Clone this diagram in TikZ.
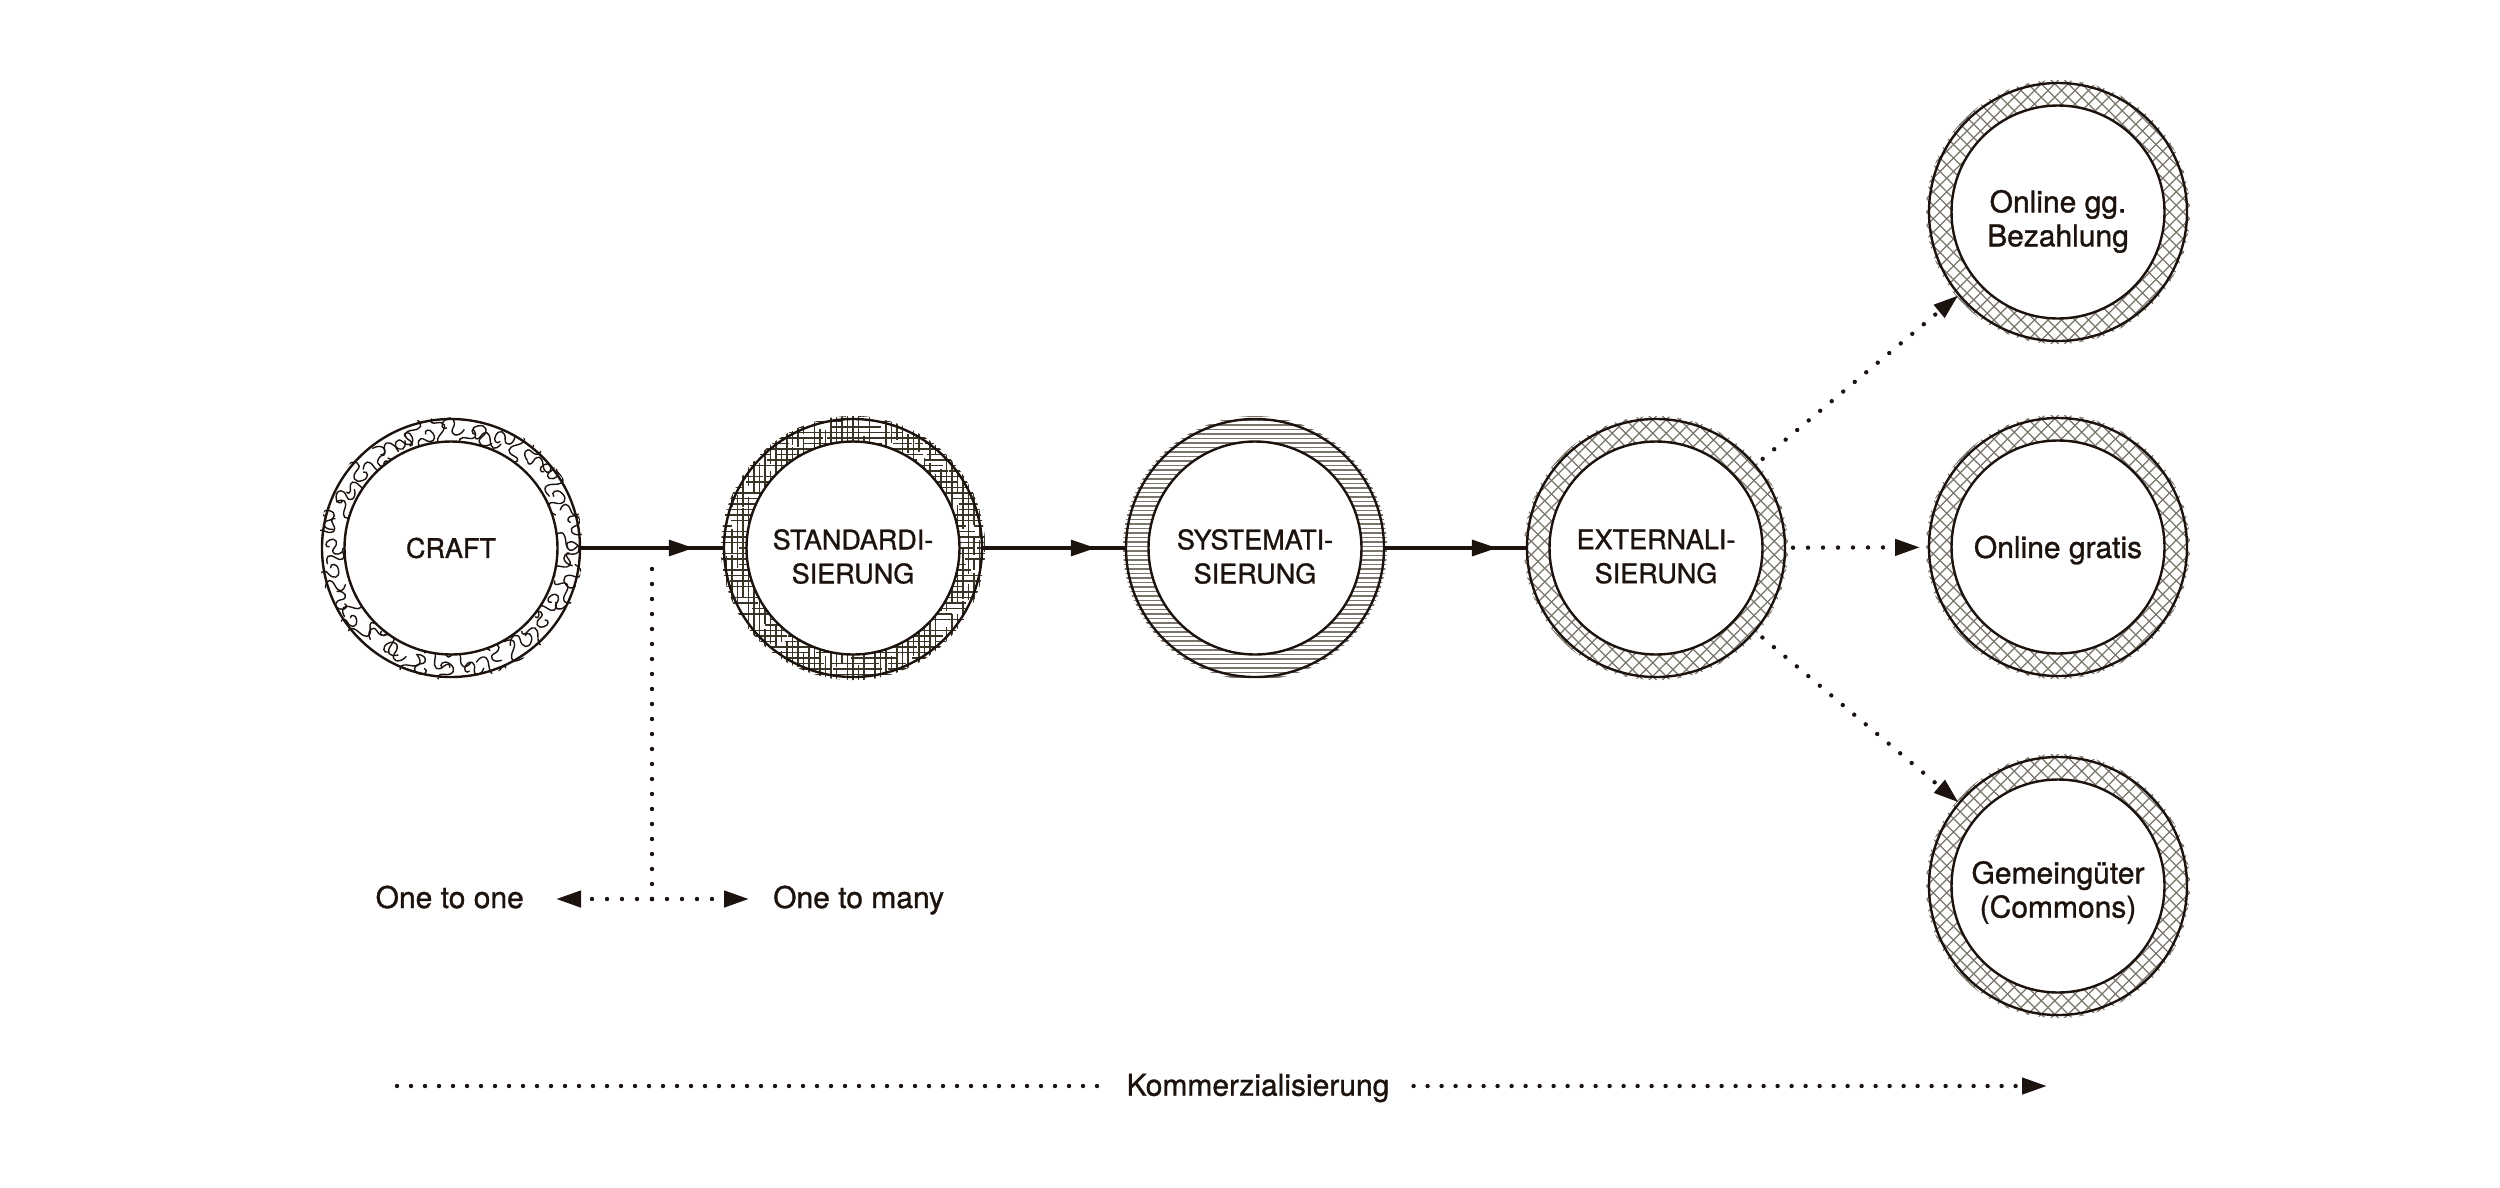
\documentclass[tikz,border=0pt]{standalone}
\usepackage{fontspec}
\setmainfont{TeX Gyre Heros}[FakeBold=1.1]
\usetikzlibrary{arrows.meta,decorations.markings,calc}
\definecolor{ink}{HTML}{1C130E}
\definecolor{hatchgray}{HTML}{7A756B}
\definecolor{hatchdark}{HTML}{3A3426}
\newcommand\drawxhatch{%
  \foreach \k in {-280,-266.5,...,280}{%
    \draw[xh] (\k-140,-140) -- (\k+140,140);
    \draw[xh] (\k-140,140) -- (\k+140,-140);
  }%
}
\begin{document}
\begin{tikzpicture}[x=1pt,y=-1pt,
  ring/.style={circle,draw=ink,line width=2.4pt,minimum size=258pt,inner sep=0pt,outer sep=0pt},
  inring/.style={circle,draw=ink,line width=2.4pt,minimum size=213pt,inner sep=0pt,outer sep=0pt},
  capl/.style={font=\fontsize{27}{34}\selectfont,text=ink,align=center,inner sep=0pt},
  lowl/.style={font=\fontsize{30}{34}\selectfont,text=ink,align=center,inner sep=0pt},
  flow/.style={draw=ink,line width=3.2pt,postaction={decorate},
    decoration={markings,mark=at position 0.79 with {\arrow{Triangle[length=25pt,width=16pt]}}}},
  dots/.style={draw=ink,line width=4.4pt,line cap=round,dash pattern=on 0pt off 15pt},
  dotarrow/.style={dots,-{Triangle[length=25pt,width=16pt]}},
  squig/.style={draw=ink,line width=1.4pt,line cap=round},
  seg/.style={draw=hatchdark,line width=1.3pt},
  hl/.style={draw=hatchgray,line width=1.2pt},
  xh/.style={draw=hatchgray,line width=1.2pt},
]
\useasboundingbox (0,0) rectangle (2500,1187);

% ---- CRAFT ring: squiggles
\begin{scope}[shift={(451,548)},even odd rule]
  \clip (0,0) circle[radius=132pt] (0,0) circle[radius=106pt];
  \pgfmathsetseed{7}
  \foreach \i in {1,...,56}{
    \pgfmathsetmacro\ang{\i*6.4286+rnd*3}
    \pgfmathsetmacro\rr{110+rnd*17}
    \pgfmathsetmacro\rot{rnd*360}
    \pgfmathsetmacro\sc{0.9+rnd*0.3}
    \ifodd\i
      \draw[squig,shift={(\ang:\rr)},rotate=\rot,scale=\sc] (-12,0) .. controls (-9,-8) and (-4,-8) .. (-1,0) .. controls (2,8) and (7,8) .. (9,1) .. controls (10,-3) and (13,-4) .. (14,-1);
    \else
      \draw[squig,shift={(\ang:\rr)},rotate=\rot,scale=\sc] (-9,5) .. controls (-11,-4) and (-3,-8) .. (-1,-1) .. controls (1,6) and (8,7) .. (9,-1) .. controls (10,-7) and (4,-9) .. (3,-5);
    \fi
  }
\end{scope}

% ---- STANDARDISIERUNG ring: grid segments
\begin{scope}[shift={(853,548)},even odd rule]
  \clip (0,0) circle[radius=132pt] (0,0) circle[radius=106pt];
  \pgfmathsetseed{11}
  \foreach \i in {1,...,760}{
    \pgfmathsetmacro\ang{rnd*360}
    \pgfmathsetmacro\rr{102+rnd*32}
    \pgfmathsetmacro\px{round(\rr*cos(\ang)/5.5)*5.5}
    \pgfmathsetmacro\py{round(\rr*sin(\ang)/5.5)*5.5}
    \pgfmathsetmacro\len{8+rnd*24}
    \ifodd\i
      \draw[seg] (\px-\len/2,\py) -- ++(\len,0);
    \else
      \draw[seg] (\px,\py-\len/2) -- ++(0,\len);
    \fi
  }
\end{scope}

% ---- SYSTEMATISIERUNG ring: horizontal lines
\begin{scope}[shift={(1255,548)},even odd rule]
  \clip (0,0) circle[radius=132pt] (0,0) circle[radius=106pt];
  \foreach \k in {-132,-127.5,...,133}{
    \draw[hl] (-140,\k) -- (140,\k);
  }
\end{scope}

% ---- cross-hatched rings
\begin{scope}[shift={(1656,548)},even odd rule]
  \clip (0,0) circle[radius=132pt] (0,0) circle[radius=106pt];
  \drawxhatch
\end{scope}
\begin{scope}[shift={(2058,212)},even odd rule]
  \clip (0,0) circle[radius=132pt] (0,0) circle[radius=106pt];
  \drawxhatch
\end{scope}
\begin{scope}[shift={(2058,547)},even odd rule]
  \clip (0,0) circle[radius=132pt] (0,0) circle[radius=106pt];
  \drawxhatch
\end{scope}
\begin{scope}[shift={(2058,886)},even odd rule]
  \clip (0,0) circle[radius=132pt] (0,0) circle[radius=106pt];
  \drawxhatch
\end{scope}

% ---- ring outlines
\node[ring] (craft) at (451,548) {};
\node[inring] (crafti) at (451,548) {};
\node[ring] (std) at (853,548) {};
\node[inring] (stdi) at (853,548) {};
\node[ring] (sys) at (1255,548) {};
\node[inring] (sysi) at (1255,548) {};
\node[ring] (ext) at (1656,548) {};
\node[inring] (exti) at (1656,548) {};
\node[ring] (onl) at (2058,212) {};
\node[inring] (onli) at (2058,212) {};
\node[ring] (grat) at (2058,547) {};
\node[inring] (grati) at (2058,547) {};
\node[ring] (comm) at (2058,886) {};
\node[inring] (commi) at (2058,886) {};

% ---- labels
\node[capl] (craftt) at (451,548) {CRAFT};
\node[capl] (stdt) at (853,556.5) {STANDARDI-\\SIERUNG};
\node[capl] (syst) at (1255,556.5) {SYSTEMATI-\\SIERUNG};
\node[capl] (extt) at (1656,556.5) {EXTERNALI-\\SIERUNG};
\node[lowl] (onlt) at (2058,221.4) {Online gg.\\Bezahlung};
\node[lowl] (gratt) at (2058,550) {Online gratis};
\node[lowl] (commt) at (2058,892.5) {Gemeingüter\\(Commons)};

% ---- main flow
\draw[flow] (craft) -- (std);
\draw[flow] (std) -- (sys);
\draw[flow] (sys) -- (ext);

% ---- branches
\draw[dotarrow,shorten <=10pt,shorten >=1pt] (ext) -- (onl);
\draw[dotarrow,shorten <=8pt,shorten >=9pt] (ext) -- (grat);
\draw[dotarrow,shorten <=10pt,shorten >=1pt] (ext) -- (comm);

% ---- one to one / one to many
\coordinate (jt) at ($(craft.east)!0.5!(std.west)$);
\coordinate (jb) at ($(jt)+(0,351)$);
\coordinate (tl) at ($(jb)+(-96,0)$);
\coordinate (tr) at ($(jb)+(97,0)$);
\draw[dots,shorten >=14pt] (jb) -- (jt);
\draw[dotarrow] (jb) -- (tl);
\draw[dotarrow] (jb) -- (tr);
\node[lowl,anchor=base east] (oto) at (524,908) {One to one};
\node[lowl,anchor=base west] (otm) at (773,908) {One to many};

% ---- Kommerzialisierung
\node[lowl,inner xsep=24pt] (kom) at (1258,1088) {Kommerzialisierung};
\coordinate (kst) at (397,1086);
\coordinate (ken) at (2047,1086);
\draw[dots,dash pattern=on 0pt off 14pt] (kst) -- (kst -| kom.west);
\draw[dotarrow,dash pattern=on 0pt off 14pt] (ken -| kom.east) -- (ken);
\end{tikzpicture}
\end{document}
